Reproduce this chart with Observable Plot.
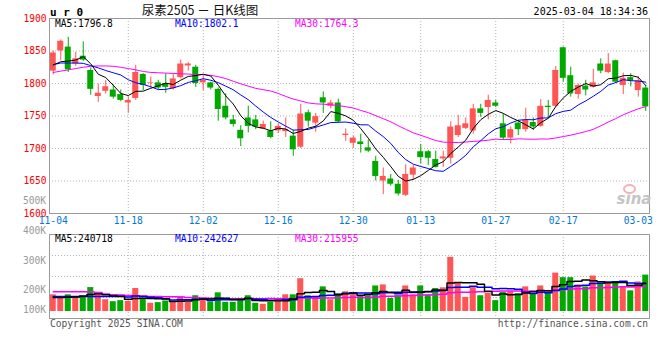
<!DOCTYPE html>
<html><head><meta charset="utf-8">
<script src="https://cdn.jsdelivr.net/npm/d3@7"></script>
<script src="https://cdn.jsdelivr.net/npm/@observablehq/plot@0.6"></script>
<style>
html,body{margin:0;padding:0;background:#fff;}
#wrap{position:relative;width:660px;height:360px;overflow:hidden;font-family:"DejaVu Sans Mono",monospace;}
#wrap svg{position:absolute;left:0;}
.t{position:absolute;white-space:pre;}
</style></head><body><div id="wrap"></div>
<script>
const dates = ["2024-11-04","2024-11-05","2024-11-06","2024-11-07","2024-11-08","2024-11-11","2024-11-12","2024-11-13","2024-11-14","2024-11-15","2024-11-18","2024-11-19","2024-11-20","2024-11-21","2024-11-22","2024-11-25","2024-11-26","2024-11-27","2024-11-28","2024-11-29",
"2024-12-02","2024-12-03","2024-12-04","2024-12-05","2024-12-06","2024-12-09","2024-12-10","2024-12-11","2024-12-12","2024-12-13","2024-12-16","2024-12-17","2024-12-18","2024-12-19","2024-12-20","2024-12-23","2024-12-24","2024-12-25","2024-12-26","2024-12-27","2024-12-30","2024-12-31",
"2025-01-02","2025-01-03","2025-01-06","2025-01-07","2025-01-08","2025-01-09","2025-01-10","2025-01-13","2025-01-14","2025-01-15","2025-01-16","2025-01-17","2025-01-20","2025-01-21","2025-01-22","2025-01-23","2025-01-24","2025-01-27",
"2025-02-05","2025-02-06","2025-02-07","2025-02-10","2025-02-11","2025-02-12","2025-02-13","2025-02-14","2025-02-17","2025-02-18","2025-02-19","2025-02-20","2025-02-21","2025-02-24","2025-02-25","2025-02-26","2025-02-27","2025-02-28",
"2025-03-03","2025-03-04"];
const open = [1819,1850,1856,1830,1842,1820,1780,1788,1790,1783,1770,1777,1814,1800,1801,1800,1792,1809,1827,1825,1801,1801,1791,1765,1744,1728,1747,1744,1730,1727,1727,1726,1719,1702,1755,1739,1778,1765,1770,1720,1708,1710,1701,1680,1650,1653,1645,1628,1659,1695,1695,1683,1684,1685,1720,1731,1727,1761,1763,1770,1738,1716,1739,1729,1740,1734,1765,1765,1855,1812,1783,1796,1794,1830,1817,1835,1797,1809,1789,1793];
const high = [1850,1867,1871,1848,1864,1824,1799,1805,1798,1790,1779,1828,1815,1810,1805,1815,1815,1836,1832,1828,1811,1802,1793,1784,1751,1735,1765,1751,1742,1741,1738,1747,1728,1768,1759,1754,1787,1774,1776,1730,1719,1722,1713,1688,1670,1660,1651,1675,1674,1706,1697,1696,1696,1741,1751,1747,1768,1768,1782,1774,1753,1733,1743,1762,1747,1775,1774,1826,1856,1825,1799,1805,1822,1838,1846,1836,1816,1815,1811,1797];
const low = [1813,1835,1817,1826,1834,1782,1771,1784,1776,1772,1754,1774,1789,1793,1790,1785,1790,1807,1819,1794,1789,1790,1742,1744,1733,1703,1724,1729,1729,1715,1723,1717,1688,1700,1733,1725,1754,1761,1739,1711,1700,1693,1694,1650,1629,1642,1627,1626,1651,1676,1674,1670,1671,1676,1717,1729,1722,1748,1744,1763,1712,1707,1720,1725,1728,1733,1747,1763,1802,1779,1776,1781,1793,1815,1815,1800,1783,1795,1779,1757];
const close = [1847,1865,1821,1838,1836,1791,1785,1795,1779,1774,1774,1817,1797,1801,1793,1794,1807,1830,1830,1800,1805,1793,1760,1747,1737,1715,1734,1733,1737,1717,1734,1729,1698,1753,1742,1749,1770,1770,1741,1722,1716,1706,1696,1657,1657,1645,1630,1660,1670,1686,1685,1671,1687,1733,1735,1738,1761,1754,1774,1765,1716,1729,1729,1743,1733,1765,1763,1820,1808,1784,1797,1790,1801,1819,1830,1802,1808,1804,1804,1764];
const ma5 = [1828.5,1833.5,1834.5,1836,1841.3,1830.2,1814.3,1809.1,1797.3,1784.8,1781.4,1787.9,1788.2,1792.6,1796.4,1800.5,1798.5,1805.1,1810.9,1812.2,1814.3,1811.5,1797.4,1780.9,1768.4,1750.5,1738.7,1733.2,1731.2,1727.3,1731.2,1730.0,1723.1,1726.3,1731.3,1734.2,1742.4,1756.8,1754.2,1750.1,1743.5,1730.6,1715.9,1699.3,1686.4,1672.2,1657.1,1649.9,1652.5,1658.2,1666.3,1674.5,1679.8,1692.3,1702.3,1712.8,1730.8,1744.3,1752.5,1758.4,1754.1,1747.7,1742.6,1736.5,1730.0,1739.7,1746.5,1764.6,1777.6,1787.9,1794.4,1799.9,1796.0,1798.1,1807.3,1808.3,1811.9,1812.5,1809.6,1796.8];
const ma10 = [1829,1831.5,1831.5,1831.5,1831,1827.5,1824,1820,1816.5,1813.1,1805.8,1801.1,1798.7,1795.0,1790.6,1791.0,1793.2,1796.7,1801.7,1804.3,1807.4,1805.0,1801.3,1795.9,1790.3,1782.4,1775.1,1765.3,1756.1,1747.8,1740.8,1734.4,1728.2,1728.8,1729.3,1732.7,1736.2,1739.9,1740.3,1740.7,1738.9,1736.5,1736.3,1726.8,1718.3,1707.8,1693.9,1682.9,1675.9,1672.3,1669.2,1665.8,1664.9,1672.4,1680.2,1689.5,1702.6,1712.1,1722.4,1730.4,1733.5,1739.2,1743.5,1744.5,1744.2,1746.9,1747.1,1753.6,1757.1,1759.0,1767.0,1773.2,1780.3,1787.9,1797.6,1801.4,1805.9,1804.3,1803.8,1802.1];
const ma30 = [1817,1819,1821,1823,1825,1826.5,1827,1827,1826.5,1825,1823,1821,1818.5,1817,1816.5,1816,1815.5,1815,1814.5,1814,1813.5,1812.5,1810.5,1807.5,1803.5,1799.5,1796,1792.5,1790.5,1788.4,1784.7,1780.1,1776.0,1773.2,1770.1,1768.7,1768.2,1767.3,1766.0,1764.3,1762.3,1758.6,1755.2,1750.5,1745.9,1741.0,1735.1,1729.4,1724.1,1720.3,1716.3,1712.2,1709.8,1709.3,1709.2,1710.0,1710.9,1711.6,1712.8,1714.4,1713.8,1713.8,1714.9,1714.5,1714.2,1714.7,1714.5,1716.2,1718.4,1720.5,1723.2,1726.1,1729.5,1734.9,1740.7,1745.9,1751.9,1756.6,1761.1,1764.3];
// volume, thousands of lots
const vol = [143,127,143,127,127,205,155,101,84,93,87,197,112,70,76,90,76,127,79,135,107,84,160,79,79,112,135,70,62,79,112,143,143,281,135,127,211,101,149,169,141,135,135,219,228,112,135,219,143,219,141,197,203,464,242,121,205,135,154,93,163,169,152,211,149,219,163,329,290,290,228,211,304,242,242,242,211,177,253,312];
const volMa5 = [121,121,122,125,133.4,145.8,151.4,143,134.4,127.6,104,112.4,114.6,111.8,108.4,109,84.8,87.8,89.6,101.4,104.8,106.4,113,113,101.8,102.8,113,95,91.6,91.6,91.6,93.2,107.8,151.6,162.8,165.8,179.4,171,144.6,151.4,154.2,139,145.8,159.8,171.6,165.8,165.8,182.6,167.4,165.6,171.4,183.8,180.6,244.8,249.4,245.4,247,233.4,171.4,141.6,150,142.8,146.2,157.6,168.8,180,178.8,214.2,230,258.2,260,269.6,264.6,255,245.4,248.2,248.2,222.8,225,240.7];
const volMa10 = [128,128,128,128,128,128,128,128,129,130.5,124.9,131.9,128.8,123.1,118,106.5,98.6,101.2,100.7,104.9,106.9,95.6,100.4,101.3,101.6,103.8,109.7,104,102.3,96.7,97.2,103.1,101.4,121.6,127.2,128.7,136.3,139.4,148.1,157.1,160,159.2,158.4,152.2,161.5,160,152.4,164.2,163.6,168.6,168.6,174.8,181.6,206.1,207.5,208.4,215.4,207,208.1,195.5,197.7,194.9,189.8,164.5,155.2,165,160.8,180.2,193.8,213.5,220,224.2,239.4,242.5,251.8,254.1,258.9,243.7,240,242.6];
const volMa30 = [169,169,169,169,169,168,163,149,143,141,138,135,132,129,129,127,127,124,121,118,115,113,113,110,110,110,109,109,110,110.7,109.7,110.2,110.2,115.3,115.6,113.0,114.9,114.9,117.0,119.6,121.4,119.3,120.1,125.0,130.1,130.8,132.8,135.9,138.0,140.8,141.9,145.7,147.1,160.0,165.4,165.7,168.0,170.2,173.3,173.7,175.4,176.3,176.6,174.3,174.7,177.8,176.2,183.8,188.5,192.5,195.4,198.0,203.6,204.4,204.8,209.2,211.7,210.3,214.0,216.0];

const tickLabels = ["11-04","11-18","12-02","12-16","12-30","01-13","01-27","02-17","03-03"];
const priceTicks = [1600,1650,1700,1750,1800,1850,1900];
const priceGrid = [1650,1700,1750,1800,1850];
const volTickLabels = ["500K","400K","300K","200K","100K"];
const volGrid = [120,300,480];
const priceMaLabels = ["MA5:1796.8","MA10:1802.1","MA30:1764.3"];
const volMaLabels = ["MA5:240718","MA10:242627","MA30:215955"];
const symbol = "u r 0";
const title = "尿素2505 － 日K线图";
const stamp = "2025-03-04 18:34:36";

const RED = "#ff5555", GREEN = "#00a800";
const rows = dates.map((d,i)=>({date:d, open:open[i], high:high[i], low:low[i], close:close[i],
  ma5:ma5[i], ma10:ma10[i], ma30:ma30[i], vol:vol[i], v5:volMa5[i], v10:volMa10[i], v30:volMa30[i]}));
const col = d => d.close >= d.open ? RED : GREEN;
const tickDates = tickLabels.map(l => dates.find(d => d.slice(5) === l));
const gridDates = tickDates.slice(1, -1);
const GRID = {stroke:"#b4b4b4", strokeDasharray:"1,2"};
const xOpt = {type:"band", domain:dates, paddingInner:0.2, paddingOuter:0.1, axis:null, label:null};
const fontStyle = {fontFamily:"'DejaVu Sans Mono', monospace", fontSize:"9.6px", overflow:"visible", background:"transparent"};

const main = Plot.plot({
  width:660, height:225, marginLeft:49, marginRight:11, marginTop:18, marginBottom:12,
  style: fontStyle,
  x: xOpt,
  y: {domain:[1600,1900], axis:null, label:null},
  color: {type:"identity"},
  marks: [
    Plot.ruleY(priceGrid, GRID),
    Plot.ruleX(gridDates, GRID),
    Plot.ruleX(rows, {x:"date", y1:"low", y2:"high", stroke:col}),
    Plot.barY(rows, {x:"date", y1:"open", y2:"close", fill:col}),
    Plot.line(rows, {x:"date", y:"ma30", stroke:"#ff00ff", strokeWidth:1}),
    Plot.line(rows, {x:"date", y:"ma10", stroke:"#0000ff", strokeWidth:1}),
    Plot.line(rows, {x:"date", y:"ma5", stroke:"#000000", strokeWidth:1}),
    Plot.frame({stroke:"#9a9a9a"}),
    Plot.axisY({ticks:priceTicks, tickSize:0, tickPadding:3, color:"#ff0000", label:null, tickFormat:d => String(d)}),
    Plot.axisX({ticks:tickDates, tickSize:0, tickPadding:4, color:"#0078d7", label:null, tickFormat:d => d.slice(5)})
  ]
});
main.style.top = "0px";

const volPlot = Plot.plot({
  width:660, height:100, marginLeft:49, marginRight:11, marginTop:9, marginBottom:7,
  style: fontStyle,
  x: xOpt,
  y: {domain:[-60,660], axis:null, label:null},
  color: {type:"identity"},
  marks: [
    Plot.ruleY(volGrid, GRID),
    Plot.ruleX(gridDates, GRID),
    Plot.barY(rows, {x:"date", y:"vol", fill:col}),
    Plot.line(rows, {x:"date", y:"v30", stroke:"#ff00ff", strokeWidth:1.5, curve:"step"}),
    Plot.line(rows, {x:"date", y:"v10", stroke:"#0000ff", strokeWidth:1.5, curve:"step"}),
    Plot.line(rows, {x:"date", y:"v5", stroke:"#000000", strokeWidth:1.5, curve:"step"}),
    Plot.frame({stroke:"#9a9a9a"})
  ]
});
volPlot.style.top = "225px";

const wrap = document.getElementById("wrap");
wrap.appendChild(main);
wrap.appendChild(volPlot);

function label(txt, x, cy, o = {}) {
  const d = document.createElement("div");
  d.className = "t";
  d.textContent = txt;
  const s = o.size || 10;
  d.style.fontSize = s + "px";
  d.style.lineHeight = s + "px";
  d.style.top = (cy - 0.5 * s) + "px";
  d.style.color = o.color || "#000";
  if (o.family) d.style.fontFamily = o.family;
  if (o.weight) d.style.fontWeight = o.weight;
  if (o.style) d.style.fontStyle = o.style;
  if (o.anchor === "end") d.style.right = (660 - x) + "px";
  else if (o.anchor === "middle") { d.style.left = x + "px"; d.style.transform = "translateX(-50%)"; }
  else d.style.left = x + "px";
  wrap.appendChild(d);
  return d;
}
// header
label(symbol, 50, 12, {size:11, weight:"bold"});
label(title, 200, 10, {size:12.5, anchor:"middle", family:"'Noto Sans CJK SC', sans-serif", color:"#111"});
label(stamp, 648, 12, {size:10, anchor:"end"});
const maColors = ["#000000", "#0000ff", "#ff00ff"];
const maX = [55, 175, 295];
priceMaLabels.forEach((t,i) => label(t, maX[i], 24, {size:9.6, color:maColors[i]}));
volMaLabels.forEach((t,i) => label(t, maX[i], 239, {size:9.6, color:maColors[i]}));
// volume axis labels (placed as in the original chart)
const volLabelY = [200.7, 230.7, 260.7, 290, 310];
volTickLabels.forEach((t,i) => label(t, 46, volLabelY[i], {size:9.6, color:"#9a9a9a", anchor:"end"}));
// footer
label("Copyright 2025 SINA.COM", 50, 324, {size:9.6, color:"#555"});
label("http://finance.sina.com.cn", 648, 324, {size:9.6, color:"#555", anchor:"end"});
// watermark
label("sina", 634, 199, {size:15, color:"#c4c4c4", weight:"bold", style:"italic", anchor:"middle", family:"'DejaVu Sans', sans-serif"});
const eye = document.createElement("div");
eye.style.cssText = "position:absolute;left:623px;top:184px;width:9px;height:6px;border:2px solid #f2b3b3;border-radius:50%;";
wrap.appendChild(eye);
</script>
</body></html>
